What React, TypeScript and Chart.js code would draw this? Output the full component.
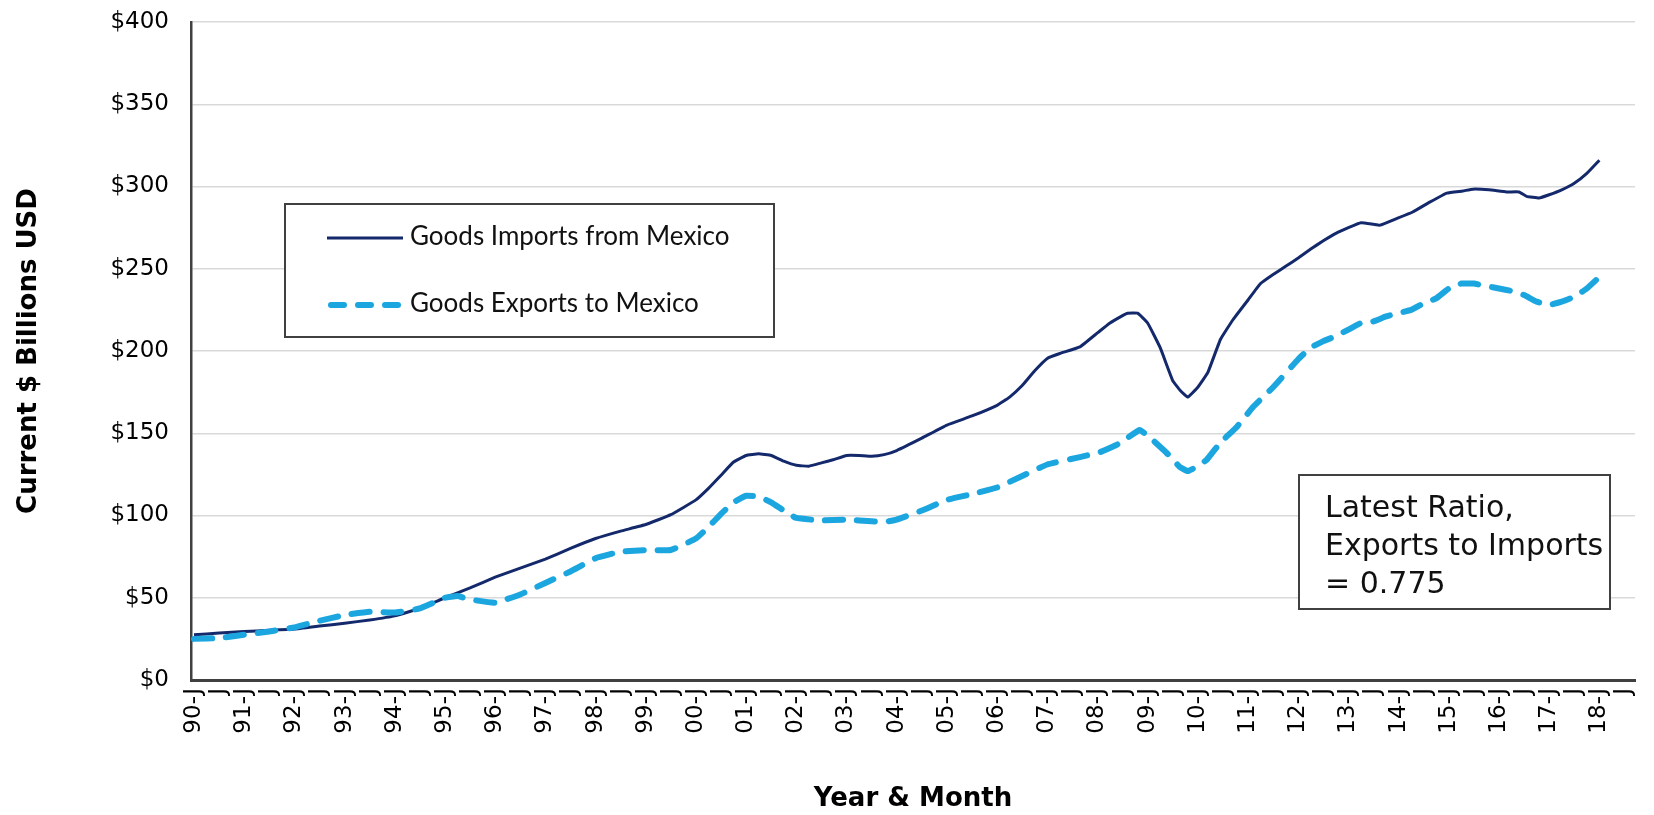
import React, { useEffect, useRef } from 'react';
import { Chart, registerables } from 'chart.js';

Chart.register(...registerables);

// ---- Data ----
const importYears = [
  1990.0, 1990.5, 1991.0, 1991.5, 1992.0, 1992.5, 1993.0, 1993.5, 1994.0, 1994.5,
  1995.0, 1995.5, 1996.0, 1996.5, 1997.0, 1997.5, 1998.0, 1998.5, 1999.0, 1999.5,
  2000.0, 2000.25, 2000.5, 2000.75, 2001.0, 2001.25, 2001.5, 2001.75, 2002.0, 2002.25,
  2002.5, 2002.75, 2003.0, 2003.25, 2003.5, 2003.75, 2004.0, 2004.5, 2005.0, 2005.5,
  2006.0, 2006.25, 2006.5, 2006.75, 2007.0, 2007.25, 2007.65, 2008.0, 2008.25, 2008.5,
  2008.6, 2008.8, 2009.0, 2009.25, 2009.5, 2009.65, 2009.8, 2010.0, 2010.2, 2010.45,
  2010.7, 2011.0, 2011.25, 2011.5, 2011.75, 2012.0, 2012.25, 2012.5, 2012.75, 2013.0,
  2013.25, 2013.5, 2013.63, 2013.96, 2014.28, 2014.62, 2014.96, 2015.28, 2015.48, 2015.8,
  2016.15, 2016.4, 2016.55, 2016.8, 2017.0, 2017.25, 2017.5, 2017.75, 2018.0,
];
const importValues = [
  27.5, 28.5, 29.5, 30.2, 31, 32.8, 34.5, 36.5, 39, 43.5,
  50, 56, 62.5, 68, 73.5, 80, 86, 90.5, 94.5, 100.5,
  109.5, 116.5, 124.5, 132.5, 136.5, 137.5, 136.5, 133, 130.5, 130,
  132, 134, 136.5, 136.5, 136, 137, 139.5, 147, 155, 160.5,
  167, 172, 179, 188, 195.5, 198.5, 202.5, 211, 217, 221.5,
  223, 223, 217, 202, 182, 176, 172, 178, 187, 207,
  219, 231, 241, 246.5, 251.5, 256.5, 262, 267, 271.5, 275,
  278, 277, 276.5, 280.5, 284.5, 290.5, 296, 297.3, 298.4, 298,
  296.7, 296.7, 294, 293, 295, 298, 302, 308, 316,
];

const exportYears = [
  1990.0, 1990.5, 1991.0, 1991.5, 1992.0, 1992.5, 1993.0, 1993.5, 1994.0, 1994.5,
  1995.0, 1995.25, 1995.5, 1996.0, 1996.5, 1997.0, 1997.5, 1998.0, 1998.5, 1999.0,
  1999.5, 2000.0, 2000.25, 2000.5, 2000.75, 2001.0, 2001.25, 2001.5, 2001.75, 2002.0,
  2002.5, 2003.0, 2003.5, 2003.75, 2004.0, 2004.5, 2005.0, 2005.5, 2006.0, 2006.5,
  2007.0, 2007.65, 2008.05, 2008.45, 2008.84, 2009.04, 2009.38, 2009.64, 2009.8, 2010.0,
  2010.18, 2010.44, 2010.78, 2011.1, 2011.5, 2012.0, 2012.25, 2012.5, 2012.75, 2013.0,
  2013.25, 2013.5, 2013.75, 2014.0, 2014.25, 2014.5, 2014.75, 2015.0, 2015.25, 2015.5,
  2015.75, 2016.0, 2016.25, 2016.5, 2016.75, 2017.0, 2017.25, 2017.5, 2017.75, 2018.0,
];
const exportValues = [
  25, 25.5, 27.5, 29.5, 32, 36, 39.5, 41.5, 41, 43.5,
  50, 51, 49, 47, 52, 59, 66, 74, 78, 79,
  79, 86, 93, 101, 108, 112, 111.5, 108, 103, 98.5,
  97, 97.5, 96.5, 96, 97.5, 103, 109.5, 113, 117, 124,
  131, 135.5, 138.5, 144, 152, 147.5, 138, 129.5, 127, 130,
  134, 144, 154, 166, 178, 195, 202, 206, 209, 213,
  217, 218, 221, 223, 225, 229, 232, 238, 241, 241,
  239.5, 238, 236.5, 234, 230, 228, 230, 233, 238, 245,
];

const xTickLabels = [
  '90-J', 'J', '91-J', 'J', '92-J', 'J', '93-J', 'J', '94-J', 'J',
  '95-J', 'J', '96-J', 'J', '97-J', 'J', '98-J', 'J', '99-J', 'J',
  '00-J', 'J', '01-J', 'J', '02-J', 'J', '03-J', 'J', '04-J', 'J',
  '05-J', 'J', '06-J', 'J', '07-J', 'J', '08-J', 'J', '09-J', 'J',
  '10-J', 'J', '11-J', 'J', '12-J', 'J', '13-J', 'J', '14-J', 'J',
  '15-J', 'J', '16-J', 'J', '17-J', 'J', '18-J', 'J',
];
const xFirstTick = 1990;
const xTickStep = 0.5;

const seriesLabels = ['Goods Imports from Mexico', 'Goods Exports to Mexico'];
const ratioLines = ['Latest Ratio,', 'Exports to Imports', '= 0.775'];

const IMPORT_COLOR = '#14296b';
const EXPORT_COLOR = '#1ca6e0';
const AXIS_FONT = '"DejaVu Sans", "Noto Sans", sans-serif';
const LEGEND_FONT = 'Lato, "Noto Sans", sans-serif';

export default function App() {
  const ref = useRef<HTMLCanvasElement>(null);

  useEffect(() => {
    document.body.style.margin = '0';
    const canvas = ref.current;
    if (!canvas) return;

    const boxesPlugin = {
      id: 'boxes',
      afterDraw(chart: any) {
        const ctx = chart.ctx as CanvasRenderingContext2D;
        ctx.save();
        // Legend box
        ctx.fillStyle = '#ffffff';
        ctx.fillRect(285, 204, 489, 133);
        ctx.strokeStyle = '#404040';
        ctx.lineWidth = 2;
        ctx.strokeRect(285, 204, 489, 133);

        ctx.beginPath();
        ctx.strokeStyle = IMPORT_COLOR;
        ctx.lineWidth = 3;
        ctx.setLineDash([]);
        ctx.moveTo(327, 238);
        ctx.lineTo(403, 238);
        ctx.stroke();

        ctx.beginPath();
        ctx.strokeStyle = EXPORT_COLOR;
        ctx.lineWidth = 6;
        ctx.lineCap = 'round';
        ctx.setLineDash([13, 14]);
        ctx.moveTo(331, 305);
        ctx.lineTo(401, 305);
        ctx.stroke();
        ctx.setLineDash([]);
        ctx.lineCap = 'butt';

        ctx.fillStyle = '#111111';
        ctx.font = `26px ${LEGEND_FONT}`;
        ctx.textBaseline = 'middle';
        ctx.textAlign = 'left';
        ctx.fillText(seriesLabels[0], 410, 237);
        ctx.fillText(seriesLabels[1], 410, 304);

        // Ratio box
        ctx.fillStyle = '#ffffff';
        ctx.fillRect(1299, 475, 311, 134);
        ctx.strokeStyle = '#404040';
        ctx.lineWidth = 2;
        ctx.strokeRect(1299, 475, 311, 134);
        ctx.fillStyle = '#111111';
        ctx.font = `30px ${AXIS_FONT}`;
        ratioLines.forEach((t, i) => ctx.fillText(t, 1325, 509 + i * 38));
        ctx.restore();
      },
    };

    const chart = new Chart(canvas, {
      type: 'line',
      data: {
        datasets: [
          {
            label: seriesLabels[0],
            data: importYears.map((x, i) => ({ x, y: importValues[i] })),
            borderColor: IMPORT_COLOR,
            backgroundColor: IMPORT_COLOR,
            borderWidth: 3,
            pointRadius: 0,
            tension: 0.1,
            order: 1,
          },
          {
            label: seriesLabels[1],
            data: exportYears.map((x, i) => ({ x, y: exportValues[i] })),
            borderColor: EXPORT_COLOR,
            backgroundColor: EXPORT_COLOR,
            borderWidth: 6,
            borderDash: [18, 14],
            borderCapStyle: 'round',
            pointRadius: 0,
            tension: 0.1,
            order: 0,
          },
        ],
      },
      options: {
        animation: false,
        responsive: true,
        maintainAspectRatio: false,
        layout: { padding: { top: 22, right: 19, left: 0, bottom: 0 } },
        plugins: {
          legend: { display: false },
          tooltip: { enabled: false },
        },
        scales: {
          x: {
            type: 'linear',
            min: 1989.94,
            max: 2018.71,
            afterBuildTicks: (axis: any) => {
              axis.ticks = xTickLabels.map((_, i) => ({ value: xFirstTick + i * xTickStep }));
            },
            afterFit: (scale: any) => {
              scale.height = 135;
              scale.paddingLeft = 0;
              scale.paddingRight = 0;
            },
            ticks: {
              autoSkip: false,
              minRotation: 90,
              maxRotation: 90,
              padding: 8,
              color: '#000000',
              font: { family: AXIS_FONT, size: 23 },
              callback: (_v: any, index: number) => xTickLabels[index],
            },
            grid: { display: false, drawTicks: false },
            border: { display: true, color: '#404040', width: 3 },
            title: {
              display: true,
              text: 'Year & Month',
              color: '#000000',
              font: { family: AXIS_FONT, size: 26, weight: 'bold' },
              padding: { top: 0, bottom: 0 },
            },
          },
          y: {
            min: 0,
            max: 400,
            afterFit: (scale: any) => {
              scale.width = 191;
              scale.paddingTop = 0;
              scale.paddingBottom = 0;
            },
            ticks: {
              stepSize: 50,
              padding: 22,
              color: '#000000',
              font: { family: AXIS_FONT, size: 23 },
              callback: (v: any) => '$' + v,
            },
            grid: { color: '#d9d9d9', lineWidth: 1.5, drawTicks: false },
            border: { display: true, color: '#404040', width: 2.5 },
            title: {
              display: true,
              text: 'Current $ Billions USD',
              color: '#000000',
              font: { family: AXIS_FONT, size: 26, weight: 'bold' },
              padding: { top: 14, bottom: 0 },
            },
          },
        },
      },
      plugins: [boxesPlugin],
    } as any);

    return () => chart.destroy();
  }, []);

  return (
    <div style={{ width: 1654, height: 815, position: 'relative' }}>
      <canvas ref={ref} />
    </div>
  );
}
